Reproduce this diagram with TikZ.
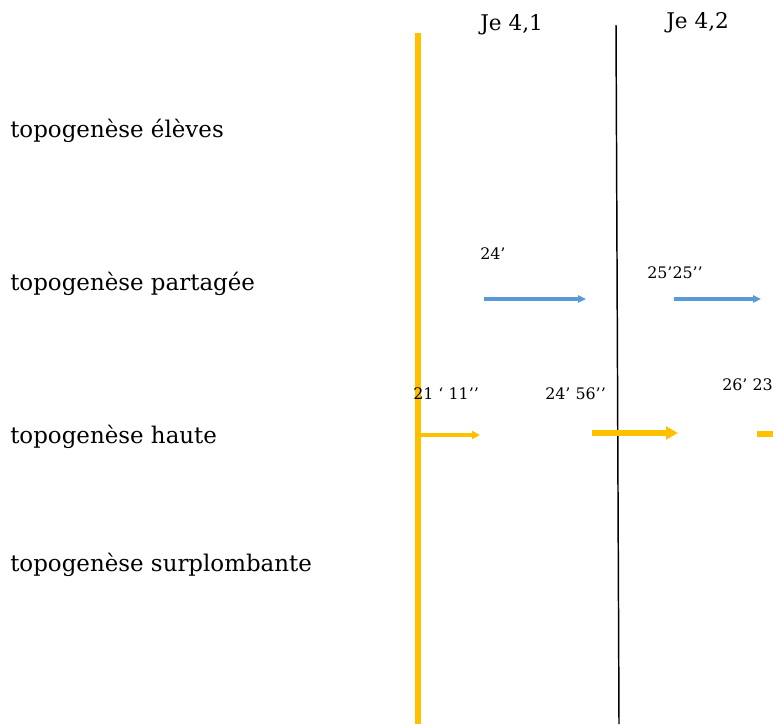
\documentclass[tikz,border=0pt]{standalone}
\usepackage{fontspec}
\setmainfont{DejaVu Serif}
\usetikzlibrary{arrows.meta}
\definecolor{topoOrange}{HTML}{FFC000}
\definecolor{topoBlue}{HTML}{5B9BD5}
\newcommand{\TopoLabelFont}{\fontsize{17.2}{20}\selectfont}
\newcommand{\TopoSessionFont}{\fontsize{16.2}{19}\selectfont}
\newcommand{\TopoTimeFont}{\fontsize{11.9}{14}\selectfont}
\tikzset{
  topo level/.style={
    anchor=base west,
    inner sep=0pt,
    font=\TopoLabelFont
  },
  topo session/.style={topo level, font=\TopoSessionFont},
  topo time/.style={
    anchor=base west,
    inner sep=0pt,
    font=\TopoTimeFont
  },
  topo blue arrow/.style={
    -{Triangle[length=6pt,width=5.5pt]},
    line width=2.3pt,
    draw=topoBlue
  },
  topo thin arrow/.style={
    -{Triangle[length=6pt,width=6pt]},
    line width=2.3pt,
    draw=topoOrange
  },
  topo thick arrow/.style={
    -{Triangle[length=9pt,width=9.5pt]},
    line width=4.6pt,
    draw=topoOrange
  }
}

\begin{document}
\begin{tikzpicture}[x=0.75pt,y=-0.75pt]
\useasboundingbox (0,0) rectangle (773,724);
\clip (0,0) rectangle (773,724);

% sessions
\node[topo session] (je41) at (480,31) {Je 4,1};
\node[topo session] (je42) at (666,29) {Je 4,2};

% levels
\node[topo level] (eleves) at (10,137) {topogenèse élèves};
\node[topo level] (partagee) at (10,290) {topogenèse partagée};
\node[topo level] (haute) at (10,443) {topogenèse haute};
\node[topo level] (surplomb) at (10,571) {topogenèse surplombante};

% time axes
\coordinate (startTop) at (418,33);
\coordinate (startBot) at (418,724);
\coordinate (cutTop) at (616,25);
\coordinate (cutBot) at (619,724);
\draw[topoOrange, line width=3.8pt] (startTop) -- (startBot);
\draw[black, line width=1.1pt] (cutTop) -- (cutBot);

% times
\node[topo time] (t24) at (480,259) {24’};
\node[topo time] (t2525) at (647,278) {25’25’’};
\node[topo time] (t2111) at (413,399) {21 ‘ 11’’};
\node[topo time] (t2456) at (545,399) {24’ 56’’};
\node[topo time] (t2623) at (722,390) {26’ 23};

% shared arrows
\coordinate (p1a) at (484,299);
\coordinate (p1b) at (586,299);
\coordinate (p2a) at (674,299);
\coordinate (p2b) at (761,299);
\draw[topo blue arrow] (p1a) -- (p1b);
\draw[topo blue arrow] (p2a) -- (p2b);

% high arrows
\coordinate (h1a) at (420,435);
\coordinate (h1b) at (480,435);
\coordinate (h2a) at (592,433);
\coordinate (h2b) at (678,433);
\coordinate (h3a) at (757,434);
\coordinate (h3b) at (800,434);
\draw[topo thin arrow] (h1a) -- (h1b);
\draw[topo thick arrow] (h2a) -- (h2b);
\draw[topoOrange, line width=4.6pt] (h3a) -- (h3b);
\end{tikzpicture}
\end{document}
